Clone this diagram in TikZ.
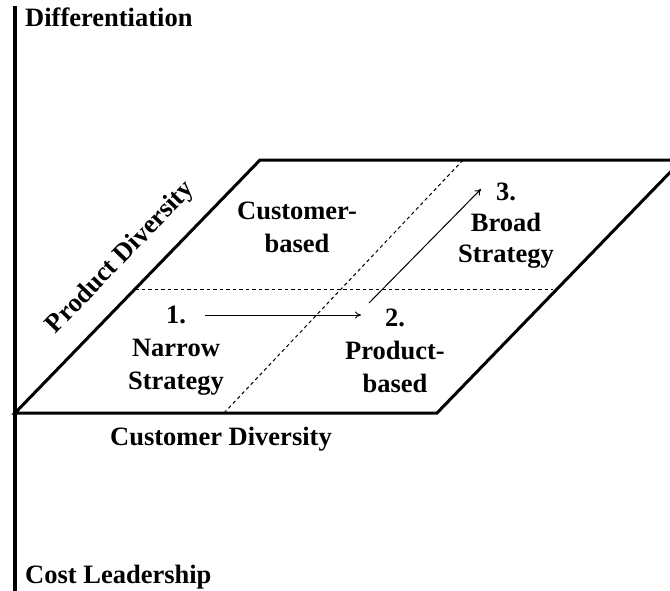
\documentclass[tikz,border=0pt]{standalone}
\usepackage{fontspec}
\setmainfont{Liberation Serif}
\usetikzlibrary{arrows.meta,calc}
\begin{document}
\begin{tikzpicture}[x=1pt,y=-1pt,
  lbl/.style={font=\fontsize{26.5}{33}\selectfont\bfseries, inner sep=0pt, align=center},
  frame/.style={line width=3pt, line join=miter},
  axis/.style={line width=3.5pt},
  divider/.style={line width=1pt, dash pattern=on 3.5pt off 3pt},
  move/.style={line width=1pt, -{To[length=6pt,width=7pt]}}]
\useasboundingbox (0,0) rectangle (670,590);

% vertical strategy axis
\coordinate (axtop) at (15,6);
\coordinate (axbot) at (15,592);
\draw[axis] (axtop) -- (axbot);
\node[lbl, anchor=base west] (diff) at (25,26) {Differentiation};
\node[lbl, anchor=base west] (cost) at (25,583) {Cost Leadership};

% diversity plane
\coordinate (bl) at (15,413);
\coordinate (br) at (437,413);
\coordinate (tr) at (682,160);
\coordinate (tl) at (260,160);
\draw[frame] (bl) -- (br) -- (tr) -- (tl) -- cycle;

% quadrant dividers
\coordinate (hl) at ($(bl)!0.49!(tl)$);
\coordinate (hr) at ($(br)!0.49!(tr)+(-4,0)$);
\draw[divider] (hl) -- (hr);
\coordinate (vb) at (224,413);
\coordinate (vt) at (463,160);
\draw[divider] (vb) -- (vt);

% axis labels of the plane
\node[lbl, anchor=base] (cdiv) at (221,445) {Customer Diversity};
\node[lbl, rotate=46] (pdiv) at (121,258) {Product Diversity};

% quadrant labels
\node[lbl] (cust) at (297,227) {Customer-\\based};
\node[lbl] (q1) at (176,351) {1.\\Narrow\\Strategy};
\node[lbl] (q2) at (395,351) {2.\\Product-\\based};
\node[lbl, font=\fontsize{26.5}{31}\selectfont\bfseries] (q3) at (506,226) {3.\\Broad\\Strategy};

% strategic moves
\coordinate (m1s) at (205,315);
\coordinate (m1e) at (361,315);
\coordinate (m2s) at (369,303);
\coordinate (m2e) at (481,189);
\draw[move] (m1s) -- (m1e);
\draw[move] (m2s) -- (m2e);
\end{tikzpicture}
\end{document}
